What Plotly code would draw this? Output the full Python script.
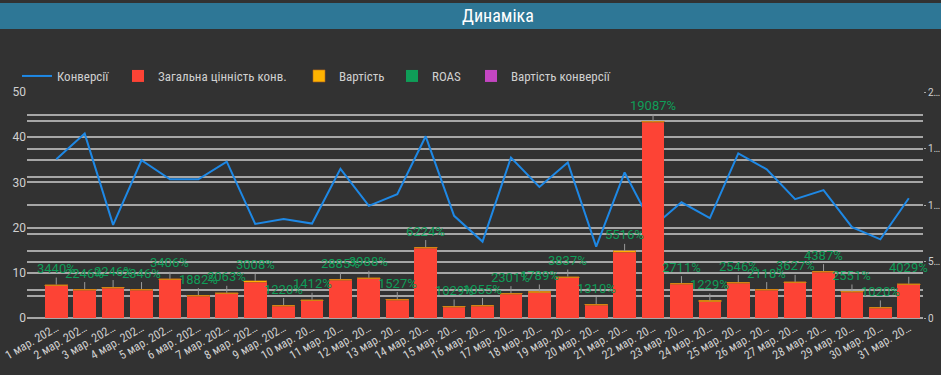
import plotly.graph_objects as go

# ---------------- data ----------------
day_labels = [
    "1 мар. 202…", "2 мар. 202…", "3 мар. 202…", "4 мар. 202…", "5 мар. 202…",
    "6 мар. 202…", "7 мар. 202…", "8 мар. 202…", "9 мар. 202…", "10 мар. 20…",
    "11 мар. 20…", "12 мар. 20…", "13 мар. 20…", "14 мар. 20…", "15 мар. 20…",
    "16 мар. 20…", "17 мар. 20…", "18 мар. 20…", "19 мар. 20…", "20 мар. 20…",
    "21 мар. 20…", "22 мар. 20…", "23 мар. 20…", "24 мар. 20…", "25 мар. 20…",
    "26 мар. 20…", "27 мар. 20…", "28 мар. 20…", "29 мар. 20…", "30 мар. 20…",
    "31 мар. 20…",
]

conversions = [35.1, 40.8, 20.6, 34.9, 30.7, 30.7, 34.6, 20.8, 21.9, 20.9,
               33.0, 24.8, 27.4, 40.2, 22.6, 16.9, 35.5, 29.0, 34.4, 15.8,
               32.2, 20.2, 25.6, 22.1, 36.4, 32.9, 26.3, 28.3, 20.1, 17.4,
               26.5]

conv_value = [2876, 2451, 2623, 2455, 3369, 1926, 2129, 3186, 1061, 1509,
              3325, 3473, 1577, 6181, 933, 1049, 2108, 2224, 3579, 1149,
              5834, 17309, 2978, 1435, 3056, 2445, 3114, 4056, 2259, 852,
              2955]

cost = [84, 109, 117, 105, 99, 102, 103, 106, 87, 107,
        115, 87, 103, 99, 91, 99, 92, 124, 93, 87,
        106, 91, 110, 117, 120, 115, 86, 92, 89, 84,
        73]

roas = [3440, 2246, 2246, 2346, 3406, 1882, 2063, 3008, 1220, 1412,
        2885, 3988, 1527, 6224, 1029, 1055, 2301, 1789, 3837, 1310,
        5516, 19087, 2711, 1229, 2546, 2118, 3627, 4387, 2551, 1020,
        4029]

legend_only_value = [0]  # ROAS bars / cost per conversion are not drawn as bars

left_ticks = [0, 10, 20, 30, 40, 50]
right_ticks = [0, 5000, 10000, 15000, 20000]
right_ticktext = ["0", "5…", "1…", "1…", "2…"]

# ---------------- style ----------------
BG = "#323232"
GRID = "#a6a6a6"
TXT = "#d0d0d0"
RED = "#fd4335"
ORANGE = "#ffb300"
GREEN = "#0f9d58"
PURPLE = "#c446c2"
BLUE = "#1e88e5"
NARROW = "Roboto Condensed, Liberation Sans Narrow, DejaVu Sans Condensed, Roboto, sans-serif"

W, H = 941, 375
ML, MR, MT, MB = 27, 18, 92, 57
PW = W - ML - MR
PH = H - MT - MB


def px_x(px):
    return (px - ML) / PW


def px_y(py):
    return (H - MB - py) / PH


fig = go.Figure()

fig.add_trace(go.Scatter(
    x=day_labels, y=conversions, name="Конверсії", mode="lines",
    line=dict(color=BLUE, width=2), yaxis="y", legend="legend",
))
fig.add_trace(go.Bar(
    x=day_labels, y=conv_value, name="Загальна цінність конв.",
    marker=dict(color=RED, line=dict(width=0)), yaxis="y2", legend="legend2",
))
fig.add_trace(go.Bar(
    x=day_labels, y=cost, name="Вартість",
    marker=dict(color=ORANGE, line=dict(color="#b5651d", width=0.6)),
    yaxis="y2", legend="legend3",
))
fig.add_trace(go.Bar(
    x=day_labels[:1], y=legend_only_value, name="ROAS",
    marker=dict(color=GREEN, line=dict(width=0)), yaxis="y2",
    hoverinfo="skip", legend="legend4",
))
fig.add_trace(go.Bar(
    x=day_labels[:1], y=legend_only_value, name="Вартість конверсії",
    marker=dict(color=PURPLE, line=dict(width=0)), yaxis="y2",
    hoverinfo="skip", legend="legend5",
))

annotations = []
for lab, v, c, r in zip(day_labels, conv_value, cost, roas):
    annotations.append(dict(
        x=lab, y=v + c, xref="x", yref="y2", text=f"{r}%",
        showarrow=True, arrowhead=0, arrowwidth=1, arrowcolor="#9a9a9a",
        ax=0, ay=-16, standoff=0,
        font=dict(family="Roboto, sans-serif", size=13, color=GREEN),
    ))

# title
annotations.append(dict(
    x=px_x(498), y=px_y(16), xref="paper", yref="paper",
    text="Динаміка", showarrow=False,
    font=dict(family=NARROW, size=18, color="#ffffff"),
    xanchor="center", yanchor="middle",
))

shapes = [dict(
    type="rect", xref="paper", yref="paper",
    x0=px_x(0), x1=px_x(W), y0=px_y(29), y1=px_y(3),
    fillcolor="#2e7796", line=dict(width=0), layer="below",
)]


def legend_box(left_px):
    return dict(
        orientation="h", x=px_x(left_px), y=px_y(61), xanchor="left", yanchor="top",
        font=dict(family=NARROW, size=13, color=TXT),
        bgcolor="rgba(0,0,0,0)", itemwidth=30,
    )


fig.update_layout(
    width=W, height=H,
    margin=dict(l=ML, r=MR, t=MT, b=MB, pad=0, autoexpand=False),
    paper_bgcolor=BG, plot_bgcolor=BG,
    barmode="stack", bargap=0.2,
    showlegend=True,
    legend=legend_box(17),
    legend2=legend_box(118),
    legend3=legend_box(299),
    legend4=legend_box(392),
    legend5=legend_box(471),
    xaxis=dict(
        type="category", range=[-1.03, 30.5], automargin=False,
        showgrid=False, zeroline=False, showline=False,
        tickangle=-30, ticks="",
        tickfont=dict(family=NARROW, size=12, color=TXT),
    ),
    yaxis=dict(
        range=[0, 50], tickvals=left_ticks, automargin=False,
        showgrid=True, gridcolor=GRID, gridwidth=1.5,
        zeroline=True, zerolinecolor=GRID, zerolinewidth=2,
        showline=False, ticks="",
        tickfont=dict(family="Roboto, sans-serif", size=12, color=TXT),
        minor=dict(
            tickmode="array",
            tickvals=[4.85, 14.85, 34.85, 44.85, 6.18, 18.65, 31.12, 43.6],
            showgrid=True, gridcolor=GRID, gridwidth=1.5, ticks="",
        ),
    ),
    yaxis2=dict(
        range=[0, 20000], overlaying="y", side="right", automargin=False,
        tickvals=right_ticks, ticktext=right_ticktext,
        showgrid=True, gridcolor=GRID, gridwidth=1.5,
        zeroline=False, showline=False,
        ticks="outside", ticklen=2, tickcolor=GRID,
        tickfont=dict(family="Roboto, sans-serif", size=10, color=TXT),
    ),
    annotations=annotations,
    shapes=shapes,
)

fig.write_html(
    "out.html",
    config={"displayModeBar": False},
    post_script="document.body.style.margin='0';document.body.style.overflow='hidden';",
)
